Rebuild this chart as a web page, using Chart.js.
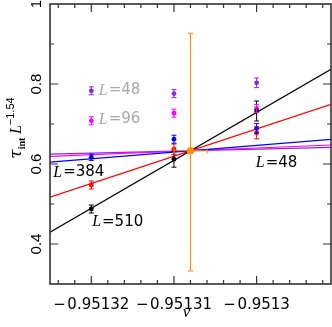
<!DOCTYPE html>
<html>
<head>
<meta charset="utf-8">
<script src="https://cdn.jsdelivr.net/npm/chart.js@4.4.0/dist/chart.umd.min.js"></script>
<style>
html, body { margin: 0; padding: 0; background: #fff; }
canvas { display: block; }
</style>
</head>
<body>
<canvas id="chart" width="332" height="327"></canvas>
<script>
// measured columns (nu values) and axis setup
var xCols = [-0.95132, -0.95131, -0.9513];
var xMin = -0.951325, xMax = -0.951291;
var xTickVals = [-0.95132, -0.95131, -0.9513];
var xTickLabels = ['\u2212\u200a0.95132', '\u2212\u200a0.95131', '\u2212\u200a0.9513'];
var yTickVals = [0.4, 0.6, 0.8, 1];
var yTickLabels = ['0.4', '0.6', '0.8', '1'];

var sizes = ['48', '96', '192', '384', '510'];
var colors = ['#8a2be2', '#ff00ff', '#0000ff', '#ff0000', '#000000'];

// tau_int L^-1.54 at each column, with errors
var y48  = [0.783, 0.776, 0.803];
var y96  = [0.708, 0.727, 0.739];
var y192 = [0.617, 0.662, 0.689];
var y384 = [0.5475, 0.637, 0.678];
var y510 = [0.4875, 0.612, 0.7325];
var e48  = [0.010, 0.010, 0.012];
var e96  = [0.010, 0.010, 0.010];
var e192 = [0.008, 0.010, 0.012];
var e384 = [0.010, 0.013, 0.015];
var e510 = [0.010, 0.020, 0.025];

// fitted lines, values at the two ends of the x range
var fitX = [xMin, xMax];
var fit48  = [0.6248, 0.6418];
var fit96  = [0.619, 0.6475];
var fit192 = [0.6048, 0.6618];
var fit384 = [0.517, 0.7493];
var fit510 = [0.4293, 0.8368];

// crossing estimate
var crossX = -0.951308, crossY = 0.6333;
var crossXErr = 0.000002;
var crossYLo = 0.3325, crossYHi = 0.927;

var ys = [y48, y96, y192, y384, y510];
var es = [e48, e96, e192, e384, e510];
var fits = [fit48, fit96, fit192, fit384, fit510];

var datasets = [];
datasets.push({
    label: 'cross',
    data: [{x: crossX, y: crossY}],
    pointRadius: 3.5,
    pointBackgroundColor: '#ff8c00',
    pointBorderWidth: 0
});
for (let i = sizes.length - 1; i >= 0; i--) {
    datasets.push({
        label: 'L=' + sizes[i],
        data: xCols.map(function (x, j) { return {x: x, y: ys[i][j]}; }),
        errs: es[i],
        pointRadius: 2.4,
        pointBackgroundColor: colors[i],
        pointBorderWidth: 0
    });
}
for (let i = sizes.length - 1; i >= 0; i--) {
    datasets.push({
        label: 'fit L=' + sizes[i],
        data: fitX.map(function (x, j) { return {x: x, y: fits[i][j]}; }),
        showLine: true,
        borderColor: colors[i],
        borderWidth: 1.2,
        pointRadius: 0
    });
}

// label annotations in data units
var notes = [
    {text: '48', x: -0.9513191, y: 0.7838, color: '#a8a8a8'},
    {text: '96', x: -0.9513191, y: 0.7113, color: '#a8a8a8'},
    {text: '384', x: -0.9513246, y: 0.5788, color: '#000'},
    {text: '510', x: -0.9513199, y: 0.455, color: '#000'},
    {text: '48', x: -0.9513001, y: 0.6025, color: '#000'}
];

var decor = {
    id: 'decor',
    afterDatasetsDraw: function (chart) {
        var ctx = chart.ctx;
        var xs = chart.scales.x, yv = chart.scales.y;
        ctx.save();
        ctx.lineWidth = 1;
        chart.data.datasets.forEach(function (ds) {
            if (!ds.errs) return;
            ctx.strokeStyle = ds.pointBackgroundColor;
            ds.data.forEach(function (p, j) {
                var px = xs.getPixelForValue(p.x);
                var t = yv.getPixelForValue(p.y + ds.errs[j]);
                var b = yv.getPixelForValue(p.y - ds.errs[j]);
                ctx.beginPath();
                ctx.moveTo(px, t); ctx.lineTo(px, b);
                ctx.moveTo(px - 2.5, t); ctx.lineTo(px + 2.5, t);
                ctx.moveTo(px - 2.5, b); ctx.lineTo(px + 2.5, b);
                ctx.stroke();
            });
        });
        // crossing error bars
        ctx.strokeStyle = '#ff8c00';
        var cx = xs.getPixelForValue(crossX), cy = yv.getPixelForValue(crossY);
        var t = yv.getPixelForValue(crossYHi), b = yv.getPixelForValue(crossYLo);
        var l = xs.getPixelForValue(crossX - crossXErr), r = xs.getPixelForValue(crossX + crossXErr);
        ctx.beginPath();
        ctx.moveTo(cx, t); ctx.lineTo(cx, b);
        ctx.moveTo(cx - 3, t); ctx.lineTo(cx + 3, t);
        ctx.moveTo(cx - 3, b); ctx.lineTo(cx + 3, b);
        ctx.moveTo(l, cy); ctx.lineTo(r, cy);
        ctx.moveTo(l, cy - 3); ctx.lineTo(l, cy + 3);
        ctx.moveTo(r, cy - 3); ctx.lineTo(r, cy + 3);
        ctx.stroke();
        ctx.fillStyle = '#ff8c00';
        ctx.beginPath(); ctx.arc(cx, cy, 3.5, 0, Math.PI * 2); ctx.fill();

        // L= labels
        ctx.textBaseline = 'middle';
        notes.forEach(function (n) {
            var x = xs.getPixelForValue(n.x), y = yv.getPixelForValue(n.y);
            ctx.fillStyle = n.color;
            ctx.font = 'italic 16px "Liberation Serif"';
            ctx.fillText('L', x, y);
            x += ctx.measureText('L').width + 1;
            ctx.font = '15px "DejaVu Sans"';
            ctx.fillText('=' + n.text, x, y);
        });
        ctx.restore();
    },
    afterDraw: function (chart) {
        var ctx = chart.ctx;
        var a = chart.chartArea;
        var xs = chart.scales.x, yv = chart.scales.y;
        ctx.save();
        ctx.strokeStyle = '#333';
        ctx.lineWidth = 1.2;
        ctx.beginPath();
        // x ticks, top and bottom
        for (let k = 0; k <= 20; k++) {
            var v = -0.951324 + k * 0.000002;
            if (v > xMax) break;
            var major = xTickVals.some(function (m) { return Math.abs(m - v) < 1e-9; });
            var len = major ? 8 : 4;
            var px = xs.getPixelForValue(v);
            ctx.moveTo(px, a.bottom); ctx.lineTo(px, a.bottom - len);
            ctx.moveTo(px, a.top); ctx.lineTo(px, a.top + len);
        }
        // y ticks, left and right
        for (let k = 4; k <= 9; k++) {
            var yval = k / 10;
            var len2 = (k % 2 === 0) ? 8 : 4;
            var py = yv.getPixelForValue(yval);
            ctx.moveTo(a.left, py); ctx.lineTo(a.left + len2, py);
            ctx.moveTo(a.right, py); ctx.lineTo(a.right - len2, py);
        }
        ctx.stroke();
        ctx.lineWidth = 1.6;
        ctx.strokeRect(a.left, a.top, a.right - a.left, a.bottom - a.top);

        // y tick labels, rotated
        ctx.fillStyle = '#000';
        ctx.font = '15px "Liberation Sans"';
        ctx.textAlign = 'center';
        ctx.textBaseline = 'alphabetic';
        yTickVals.forEach(function (v, i) {
            ctx.save();
            ctx.translate(a.left - 9, yv.getPixelForValue(v));
            ctx.rotate(-Math.PI / 2);
            ctx.fillText(yTickLabels[i], 0, 0);
            ctx.restore();
        });

        // y title
        ctx.save();
        ctx.translate(21, 128);
        ctx.rotate(-Math.PI / 2);
        ctx.textAlign = 'left';
        var parts = [
            {t: '\u03c4', f: 'italic 17px "DejaVu Serif"', dy: 0},
            {t: 'int', f: 'bold 10px "Liberation Serif"', dy: 4},
            {t: ' ', f: '14px "Liberation Serif"', dy: 0},
            {t: 'L', f: 'italic 16px "Liberation Serif"', dy: 0},
            {t: '\u22121.54', f: '11px "Liberation Sans"', dy: -7}
        ];
        var total = 0;
        parts.forEach(function (p) { ctx.font = p.f; total += ctx.measureText(p.t).width; });
        var tx = -total / 2;
        parts.forEach(function (p) {
            ctx.font = p.f;
            ctx.fillText(p.t, tx, p.dy);
            tx += ctx.measureText(p.t).width;
        });
        ctx.restore();

        // x title
        ctx.font = 'italic 17px "Liberation Serif"';
        ctx.textAlign = 'center';
        ctx.fillText('\u03bd', xs.getPixelForValue(crossX) - 4, 317);
        ctx.restore();
    }
};

var chart = new Chart(document.getElementById('chart'), {
    type: 'scatter',
    data: {datasets: datasets},
    options: {
        responsive: false,
        animation: false,
        layout: {autoPadding: false, padding: {top: 4, right: 1, left: 0, bottom: 0}},
        plugins: {legend: {display: false}, tooltip: {enabled: false}},
        scales: {
            x: {
                type: 'linear',
                min: xMin,
                max: xMax,
                grid: {display: false},
                border: {display: false},
                afterBuildTicks: function (s) { s.ticks = xTickVals.map(function (v) { return {value: v}; }); },
                afterFit: function (s) {
                    s.height = 43;
                    s.paddingLeft = 0;
                    s.paddingRight = 0;
                },
                ticks: {
                    autoSkip: false,
                    maxRotation: 0,
                    padding: 4,
                    color: '#000',
                    font: {family: 'DejaVu Sans', size: 15},
                    callback: function (v, i) { return xTickLabels[i]; }
                }
            },
            y: {
                min: 0.3,
                max: 1,
                grid: {display: false},
                border: {display: false},
                ticks: {display: false},
                afterFit: function (s) {
                    s.width = 50;
                    s.paddingTop = 0;
                    s.paddingBottom = 0;
                }
            }
        }
    },
    plugins: [decor]
});
</script>
</body>
</html>
